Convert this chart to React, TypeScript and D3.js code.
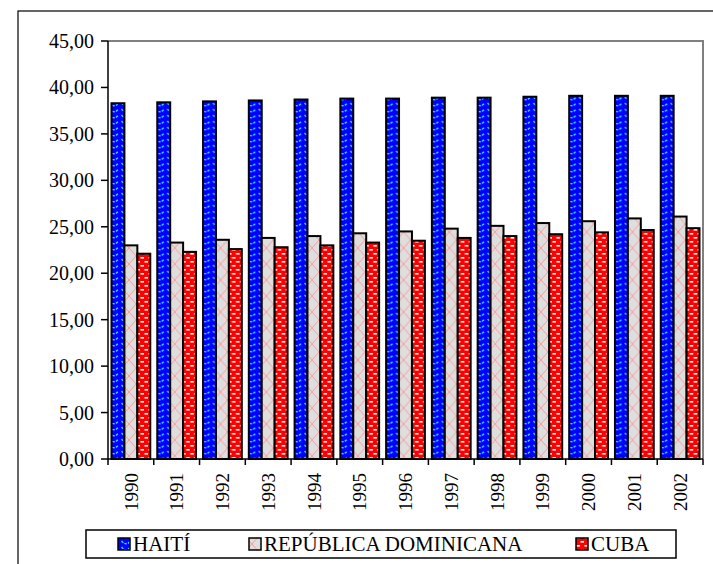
import React from "react";
import * as d3 from "d3";

const years = ["1990","1991","1992","1993","1994","1995","1996","1997","1998","1999","2000","2001","2002"];
const haiti = [38.3, 38.4, 38.5, 38.6, 38.7, 38.8, 38.8, 38.9, 38.9, 39.0, 39.1, 39.1, 39.1];
const repDom = [23.0, 23.3, 23.6, 23.8, 24.0, 24.3, 24.5, 24.8, 25.1, 25.4, 25.6, 25.9, 26.1];
const cuba = [22.1, 22.3, 22.6, 22.8, 23.0, 23.3, 23.5, 23.8, 24.0, 24.2, 24.4, 24.65, 24.85];
const seriesNames = ["HAITÍ", "REPÚBLICA DOMINICANA", "CUBA"];
const yTicks = [0, 5, 10, 15, 20, 25, 30, 35, 40, 45];

const W = 713, H = 564;
const left = 108, right = 703, top = 41, bottom = 459;
const css = `svg#chart text, #chart text.lbl { font-family: "Liberation Serif", "Times New Roman", serif !important; }`;

export default function App() {
  const series = [haiti, repDom, cuba];
  const x0 = d3.scaleBand<string>().domain(years).range([left, right]).padding(0);
  const bw = x0.bandwidth();
  const x1 = d3.scaleBand<number>().domain([0, 1, 2]).range([3.5, bw - 3.5]).padding(0);
  const y = d3.scaleLinear().domain([0, 45]).range([bottom, top]);
  const fmt = (v: number) => v.toFixed(2).replace(".", ",");
  const fills = ["url(#pHaiti)", "url(#pRD)", "url(#pCuba)"];
  const legendItems = [
    { x: 118, text: seriesNames[0] },
    { x: 249, text: seriesNames[1] },
    { x: 576, text: seriesNames[2] },
  ];
  return (
    <svg id="chart" width={W} height={H} style={{ position: "absolute", left: 0, top: 0 }}>
      <style>{css}</style>
      <defs>
        <pattern id="pHaiti" width="12" height="6" patternUnits="userSpaceOnUse">
          <rect width="12" height="6" fill="#0000ff" />
          <path d="M1.5,1 Q6,6.5 10.5,1" fill="none" stroke="#33ddff" strokeWidth="1.4" strokeDasharray="2.5,1.2" />
        </pattern>
        <pattern id="pRD" width="14" height="16" patternUnits="userSpaceOnUse">
          <rect width="14" height="16" fill="#dedede" />
          <path d="M0,0 L7,8 L0,16 M14,0 L7,8 L14,16" fill="none" stroke="#ff9a9a" strokeWidth="1" />
        </pattern>
        <pattern id="pCuba" width="8" height="8" patternUnits="userSpaceOnUse">
          <rect width="8" height="8" fill="#ff0000" />
          <rect x="0.5" y="1" width="3.5" height="1.6" fill="#ffffff" />
          <rect x="4.5" y="5" width="3.5" height="1.6" fill="#ffffff" />
        </pattern>
      </defs>
      <rect x={0} y={0} width={W} height={H} fill="#fff" />
      <rect x={18} y={11} width={720} height={570} fill="#fff" stroke="#000" strokeWidth={1.2} />
      <rect x={left} y={top} width={right - left} height={bottom - top} fill="#fff" />
      <path d={`M${left},${top} L${right},${top} L${right},${bottom}`} fill="none" stroke="#808080" strokeWidth={2} />
      {years.map((yr, i) => (
        <g key={yr} transform={`translate(${x0(yr)},0)`}>
          {series.map((s, k) => (
            <rect key={k} x={x1(k)} y={y(s[i])} width={x1.bandwidth()} height={bottom - y(s[i])}
              fill={fills[k]} stroke="#000" strokeWidth={2} />
          ))}
        </g>
      ))}
      <line x1={left} x2={left} y1={top} y2={bottom} stroke="#000" strokeWidth={1.5} />
      {yTicks.map((t) => (
        <g key={t}>
          <line x1={left - 7} x2={left} y1={y(t)} y2={y(t)} stroke="#000" strokeWidth={1.5} />
          <text className="lbl" x={94} y={y(t)} dy="0.35em" textAnchor="end" fontSize={20}>{fmt(t)}</text>
        </g>
      ))}
      <line x1={left} x2={right} y1={bottom} y2={bottom} stroke="#000" strokeWidth={1.5} />
      {years.concat(["end"]).map((yr, i) => {
        const xx = left + i * bw;
        return <line key={yr} x1={xx} x2={xx} y1={bottom} y2={bottom + 6} stroke="#000" strokeWidth={1.5} />;
      })}
      {years.map((yr) => {
        const cx = (x0(yr) as number) + bw / 2;
        return (
          <text className="lbl" key={yr} transform={`translate(${cx},473) rotate(-90)`} textAnchor="end" dy="0.35em" fontSize={19}>{yr}</text>
        );
      })}
      <rect x={86} y={530} width={590} height={28} fill="#fff" stroke="#000" strokeWidth={1.5} />
      {legendItems.map((it, k) => (
        <g key={k}>
          <rect x={it.x} y={538} width={12} height={12} fill={fills[k]} stroke="#000" strokeWidth={1.5} />
          <text className="lbl" x={it.x + 15} y={544} dy="0.35em" fontSize={21}>{it.text}</text>
        </g>
      ))}
    </svg>
  );
}
